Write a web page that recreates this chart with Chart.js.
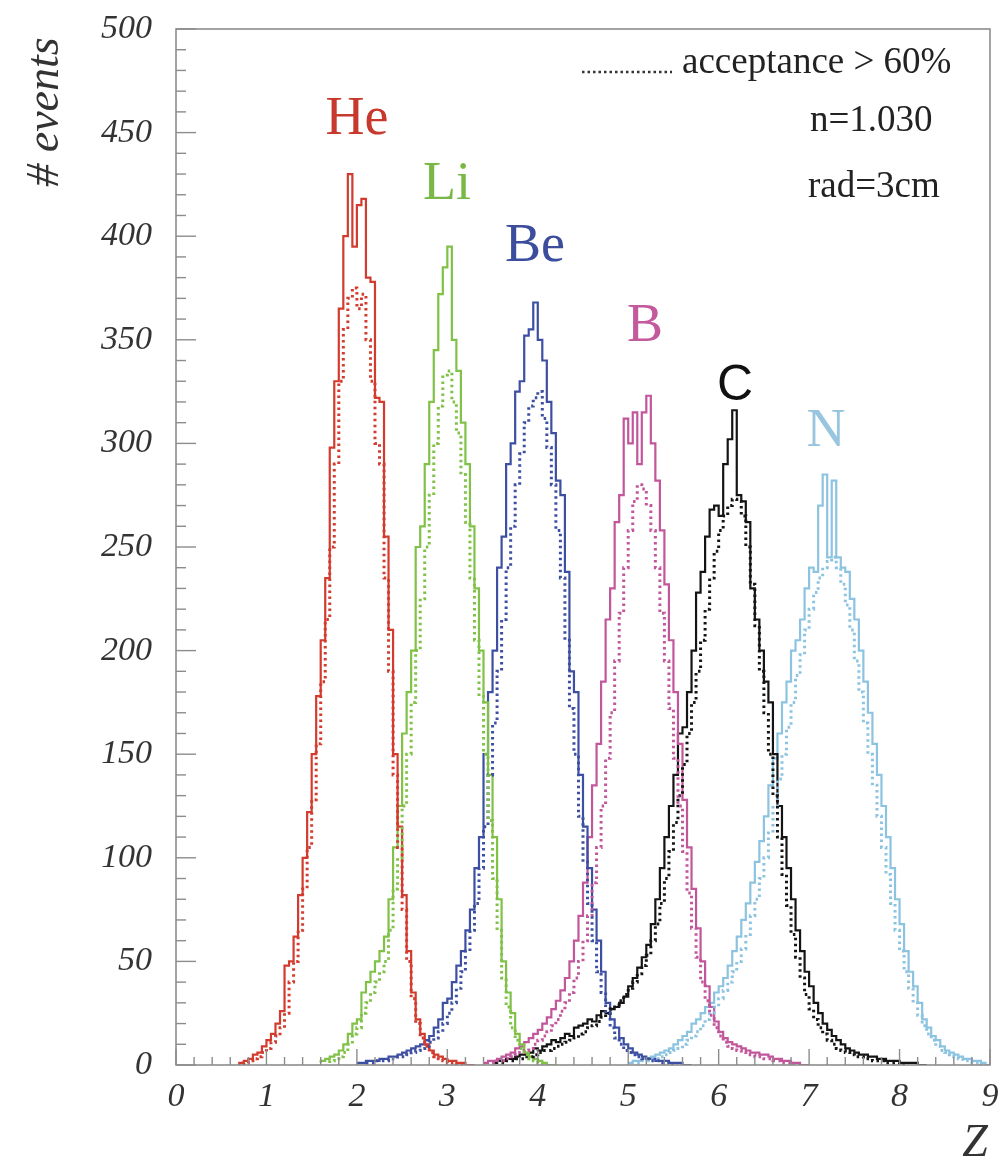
<!DOCTYPE html>
<html><head><meta charset="utf-8">
<script src="https://cdn.jsdelivr.net/npm/chart.js@4.4.1/dist/chart.umd.min.js"></script>
<style>html,body{margin:0;padding:0;background:#fff;}canvas{display:block;}</style>
</head><body>
<canvas id="c" width="1002" height="1161"></canvas>
<script>
// ---- data (bin width 0.05 in Z) ----
const BIN = 0.05;
const species = ["He","Li","Be","B","C","N"];
const xTicks = [0,1,2,3,4,5,6,7,8,9];
const yTicks = [0,50,100,150,200,250,300,350,400,450,500];

const heStart = 0.70;
const heSolid = [0,1,2,3,5,6,9,12,15,20,26,48,50,62,82,100,122,150,178,205,235,298,330,365,400,430,395,415,418,380,378,322,320,255,210,150,115,82,55,35,22,15,10,7,5,4,3,2,2,1,1,0];
const heDotStart = 0.75;
const heDotted = [0,1,2,3,4,6,8,11,14,18,25,40,50,65,85,105,128,155,185,215,250,290,330,355,370,375,365,372,350,330,300,290,235,190,140,105,75,50,32,20,13,9,6,4,3,2,1,1,0];

const liStart = 1.60;
const liSolid = [1,2,3,4,5,7,10,15,20,22,35,40,45,50,55,62,80,105,125,160,180,200,250,260,290,320,345,372,385,395,350,335,310,290,260,230,200,175,140,110,80,50,35,25,15,10,6,4,3,2,1,0];
const liDotStart = 1.70;
const liDotted = [1,2,3,4,6,10,15,18,25,30,35,40,45,50,65,85,100,125,150,175,200,225,250,275,300,318,333,335,320,305,285,262,235,205,178,150,118,90,65,42,28,18,12,8,5,3,2,1,0];

const beStart = 2.00;
const beSolid = [1,1,1,2,2,2,3,3,4,4,5,6,7,8,9,10,12,14,18,22,30,32,40,48,55,65,75,95,110,150,180,200,240,255,290,300,325,330,352,355,368,350,340,320,305,282,275,238,190,180,140,115,95,75,60,45,30,22,18,13,10,8,6,5,4,3,3,2,2,2,1,1,1,0];
const beDotStart = 2.10;
const beDotted = [1,1,1,2,2,2,3,3,4,4,5,6,7,8,9,11,13,16,20,25,30,37,45,55,65,78,95,115,140,165,190,215,240,260,280,295,310,318,322,325,312,298,280,258,235,205,172,150,120,98,78,60,45,35,25,18,13,10,7,6,5,4,3,3,2,2,1,1,0];

const bStart = 3.40;
const bSolid = [1,1,2,2,3,4,5,6,8,9,11,13,15,17,20,23,27,31,36,42,50,60,72,88,110,135,155,185,215,230,262,275,312,300,315,290,315,323,300,282,258,232,205,180,155,128,105,85,66,50,38,28,21,16,13,11,10,9,8,7,6,6,5,5,4,3,3,2,2,1,1,0];
const bDotStart = 3.50;
const bDotted = [1,1,2,2,3,4,5,6,7,8,10,12,14,16,19,22,26,30,35,42,50,60,72,88,105,125,148,170,195,218,240,258,272,280,278,270,258,240,218,195,172,148,125,103,83,66,52,40,31,24,18,14,11,9,8,7,6,5,5,4,4,3,3,2,2,1,1,0];

const cStart = 3.50;
const cSolid = [1,1,2,2,3,3,4,5,5,6, 8,7,9,10,12,11,13,15,14,18, 19,20,22,21,24,26,25,27,28,30, 33,38,42,47,52,58,68,80,95,110, 125,140,160,163,180,200,228,238,255,268, 270,265,290,302,316,275,272,262,230,215, 200,185,175,150,125,110,95,80,65,55, 45,38,30,25,20,17,14,12,10,8, 7,6,5,5,4,4,3,3,2,2, 2,1,1,1,1,0];
const cDotStart = 3.60;
const cDotted = [1,1,2,2,3,3,4,4,5,6,7,7,8,9,10,11,12,13,15,16,18,19,21,23,25,27,29,31,34,37,40,44,48,53,60,68,78,90,103,117,130,145,160,175,190,205,220,235,248,258,265,270,273,272,265,250,232,212,190,170,150,130,110,92,77,63,52,42,34,27,22,18,15,12,10,8,7,6,5,4,4,3,3,2,2,2,1,1,1,0];

const nStart = 5.00;
const nSolid = [1,1,2,2,3,3,4,5,6,7,8,10,12,14,16,20,22,25,28,30,35,38,42,48,55,62,70,78,88,98,108,120,135,148,160,175,185,200,205,215,230,240,238,270,285,245,282,245,240,238,225,215,200,185,170,155,140,125,110,95,80,68,55,45,38,30,22,18,14,12,9,7,6,5,4,3,3,2,2,1];
const nDotStart = 5.10;
const nDotted = [1,1,2,2,3,3,4,5,6,7,8,10,12,14,16,19,22,25,28,32,36,40,45,50,56,63,72,80,90,100,112,125,138,150,163,175,188,198,210,220,228,235,240,243,245,240,232,222,210,195,180,165,150,135,120,105,92,78,65,55,45,37,30,24,19,15,12,9,7,6,5,4,3,2,2,1,1];

// ---- styling ----
const colors = {He:"#d33b2e", Li:"#80c147", Be:"#3d4fa3", B:"#c2569b", C:"#141414", N:"#8cc3e0"};
const labelColors = {He:"#c8392d", Li:"#79b846", Be:"#3b4d9c", B:"#c35a9b", C:"#111111", N:"#98c6df"};

function hist(start, vals){
  const pts = vals.map((v,i)=>({x: Math.round((start + i*BIN)*1000)/1000, y: v}));
  pts.push({x: Math.round((start + vals.length*BIN)*1000)/1000, y: 0});
  return pts;
}

const series = [
  ["He", heStart, heSolid, heDotStart, heDotted],
  ["Li", liStart, liSolid, liDotStart, liDotted],
  ["Be", beStart, beSolid, beDotStart, beDotted],
  ["B",  bStart,  bSolid,  bDotStart,  bDotted],
  ["C",  cStart,  cSolid,  cDotStart,  cDotted],
  ["N",  nStart,  nSolid,  nDotStart,  nDotted]
];

const datasets = [];
series.forEach(([name, s0, sv, d0, dv]) => {
  datasets.push({label: name, data: hist(s0, sv), borderColor: colors[name], borderWidth: 2.2,
    stepped: 'after', pointRadius: 0, fill: false, order: 2});
  datasets.push({label: name + " acc>60%", data: hist(d0, dv), borderColor: colors[name], borderWidth: 3,
    borderDash: [2.5, 3.5], stepped: 'after', pointRadius: 0, fill: false, order: 1});
});

const L = 176, T = 29, R = 990, B = 1065;

const decor = {
  id: 'decor',
  beforeDraw(chart){
    const ctx = chart.ctx;
    ctx.save(); ctx.fillStyle = '#fff'; ctx.fillRect(0,0,chart.width,chart.height); ctx.restore();
  },
  afterDatasetsDraw(chart){
    const ctx = chart.ctx;
    const xs = chart.scales.x, ys = chart.scales.y;
    const a = chart.chartArea;
    ctx.save();
    // frame
    ctx.strokeStyle = '#8c8c8c'; ctx.lineWidth = 1.6;
    ctx.strokeRect(a.left, a.top, a.right - a.left, a.bottom - a.top);
    // y ticks (inside)
    ctx.strokeStyle = '#8c8c8c'; ctx.lineWidth = 1.4;
    for (let v = 0; v <= 500; v += 10) {
      const y = ys.getPixelForValue(v);
      const len = (v % 50 === 0) ? 20 : 10;
      ctx.beginPath(); ctx.moveTo(a.left, y); ctx.lineTo(a.left + len, y); ctx.stroke();
    }
    // x ticks (inside)
    for (let k = 0; k <= 45; k++) {
      const z = k * 0.2;
      const x = xs.getPixelForValue(z);
      const len = (k % 5 === 0) ? 16 : 8;
      ctx.beginPath(); ctx.moveTo(x, a.bottom); ctx.lineTo(x, a.bottom - len); ctx.stroke();
    }
    // species labels
    const labs = [["He",357,134,'serif'],["Li",447,199,'serif'],["Be",535,261,'serif'],["B",645,341,'serif'],["C",735,400,'sans'],["N",826,446,'serif']];
    ctx.textAlign = 'center'; ctx.textBaseline = 'alphabetic';
    labs.forEach(([t,x,y,f]) => {
      ctx.fillStyle = labelColors[t];
      ctx.font = f === 'sans' ? '50px "Liberation Sans"' : '54px "Liberation Serif"';
      ctx.fillText(t, x, y);
    });
    // legend
    ctx.strokeStyle = '#333'; ctx.lineWidth = 2.4; ctx.setLineDash([2.5,3]);
    ctx.beginPath(); ctx.moveTo(582, 72); ctx.lineTo(672, 72); ctx.stroke();
    ctx.setLineDash([]);
    ctx.fillStyle = '#222'; ctx.textAlign = 'left';
    ctx.font = '37px "Liberation Serif"';
    ctx.fillText('acceptance > 60%', 682, 73);
    ctx.fillText('n=1.030', 810, 131);
    ctx.fillText('rad=3cm', 808, 197);
    // axis titles
    ctx.font = 'italic 46px "Liberation Serif"';
    ctx.fillStyle = '#333';
    ctx.textAlign = 'center';
    ctx.fillText('Z', 975, 1156);
    ctx.translate(58, 112); ctx.rotate(-Math.PI/2);
    ctx.fillText('# events', 0, 0);
    ctx.restore();
  }
};

new Chart(document.getElementById('c'), {
  type: 'line',
  data: { datasets },
  plugins: [decor],
  options: {
    responsive: false, animation: false, devicePixelRatio: 1,
    layout: { padding: { left: 0, top: T, right: 1002 - R, bottom: 0 } },
    plugins: { legend: { display: false }, tooltip: { enabled: false } },
    elements: { line: { tension: 0 } },
    scales: {
      x: {
        type: 'linear', min: 0, max: 9,
        afterFit(s){ s.height = 1161 - B; s.paddingLeft = 0; s.paddingRight = 0; },
        afterBuildTicks(s){ s.ticks = xTicks.map(v => ({value: v})); },
        grid: { display: false, drawTicks: false },
        border: { display: false },
        ticks: { padding: 12, color: '#333', font: { family: 'Liberation Serif', style: 'italic', size: 34 }, maxRotation: 0, autoSkip: false }
      },
      y: {
        type: 'linear', min: 0, max: 500,
        afterFit(s){ s.width = L; s.paddingTop = 0; s.paddingBottom = 0; },
        afterBuildTicks(s){ s.ticks = yTicks.map(v => ({value: v})); },
        grid: { display: false, drawTicks: false },
        border: { display: false },
        ticks: { padding: 24, color: '#333', font: { family: 'Liberation Serif', style: 'italic', size: 34 }, autoSkip: false }
      }
    }
  }
});
</script>
</body></html>
